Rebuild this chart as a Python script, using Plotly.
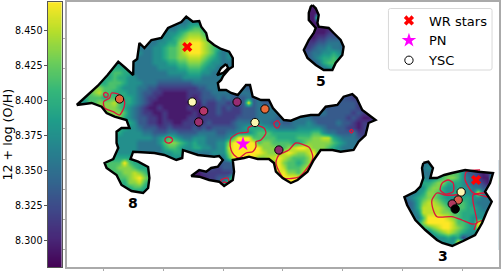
import numpy as np
import plotly.graph_objects as go

# Metallicity levels used by the digit maps below (digit -> 12+log(O/H))
LEVELS = [8.295, 8.315, 8.335, 8.355, 8.375, 8.395, 8.415, 8.435, 8.452, 8.47]

MAIN_ROWS = [
".......... .......... ..33333... ..........",
".......... .......... .3344443.. ..........",
".......... .........3 3445665433 ..........",
".......... .......334 4567776544 ..........",
".......... ......3344 5678887654 ..........",
".......... ...3333445 5789998765 3.........",
".......... ..33334456 6789998765 33........",
".......... .334334456 6789998764 343.......",
".......... ...3334456 6778887654 3433......",
".........4 44.3334445 5667776544 33343.....",
"........55 5533333444 4556665443 33343.....",
"......5566 5533333334 4445554433 5633......",
".....55565 5443333333 3344443333 463.......",
"....555666 5444333222 2222333333 3.........",
"...5776665 4443322111 1111122333 33...23...",
"..56786655 5443221100 0001112233 3323332333",
".556665666 5543211000 0001012223 2322232322 22........ ......1122 ..",
"..46677786 5543210000 0000102112 2122292322 22........ ....222122 ..",
"..56677776 5432100100 0001001112 1211222333 3322...... 2222222111 1.",
"......7777 6432110010 0000101112 1111222333 3333333333 3222221211 2.",
".......677 5432211010 0001101111 1112222333 3233333322 2222212100 1.",
"........56 5542211011 0011111211 1123333433 2322333432 2223221011 1.",
"........55 5443222112 1111212122 2223455554 4333344444 3222211012 ..",
".........5 4444332223 3222233332 2334445666 5555555566 4332223112 ..",
".........4 4444443456 5433444333 3469996666 6555566677 8854333212 ..",
".........4 4443333467 7654544334 4799999677 6666556777 776543333. ..",
".........4 4443333356 6544554434 4899999977 7667899877 7654333... ..",
".........4 4443333344 5543333344 4799999987 7789877896 65........ ..",
"........55 555....... .......... 3699999778 898766679. .......... ..",
".......666 9655...... .........2 223....... 797665679. .......... ..",
".......667 776555.... .........1 222....... .98666788. .......... ..",
".........6 778765.... ....001111 112....... .8977689.. .......... ..",
".........6 678976.... ....000112 237....... ..999998.. .......... ..",
".......... 577865.... .......112 478....... ...999.... .......... ..",
".......... .56654.... .......... 77........ .......... .......... ..",
".......... ..444..... .......... .......... .......... .......... ..",
]

G5_ROWS = [
"..00000...",
"..000000..",
"..0900....",
"..00000...",
"...00000..",
"...0011100",
"..01122211",
"..12233321",
".123343321",
".233445432",
".234556532",
".123566521",
"..12345321",
"....1211..",
]

G3_ROWS = [
"..... 33... ..... .....",
"....3 433.. ..... .....",
"....3 33566 66422 1012.",
"....4 34567 76432 1009.",
"....5 56775 55432 2109.",
"...44 67754 45443 3221.",
".3345 77654 55443 9333.",
"23456 77654 45554 4332.",
"22357 88765 56654 33321",
".2358 88876 56655 43321",
"..348 88877 66555 4432.",
"...36 99998 76554 4432.",
"....7 99999 86654 9842.",
"..... 67899 87654 85...",
"..... 35678 76544 43...",
"..... .3445 45133 3....",
"..... ...44 49933 .....",
"..... ....4 443.. .....",
]

# Galaxy outlines (image-plane coordinates)
OUTLINE_MAIN = [
(75,105),(85,96),(96,86),(106,75),(116.7,61.7),(124,68),(131.7,75),(132,61.7),(135.7,59),(138,43),
(143,48),(150,40),(160,38),(166.7,28),(176.7,24),(180,22),(185,16.7),(191.7,21.7),(198,21),(200,26.7),
(205,33),(206.7,40),(213,45),(220,49),(228,51.7),(231.7,58),(231.7,66.7),(228,69),(222,76),(220,80),
(216.7,83),(218,90),(225,90),(230,93),(236.7,95),(245,85),(249,85),(251.7,96.7),(260,100),(268,100),
(272,108),(283,120),(290,120.7),(300,116.7),(310,115),(318,115),(325,106.7),(336.7,105),(343,96.7),
(351.7,94),(356,98),(361.7,110),(375,120),(368,123),(365,135),(358,141.7),(353,150),(340,151.7),
(331.7,150),(320,150),(313,160),(306.7,171.7),(296.7,180),(290,183),(281.7,178),(275,171.7),(273,163),
(268,159),(256.7,159),(248,156.7),(243,158),(231.7,160),(233,171.7),(231.7,180),(223,186),(218,181.7),
(208,180),(198,176.7),(190,176),(198,170),(205,171.7),(210,168),(216.7,166.7),(221.7,160),(218,156),
(213,156.7),(196.7,155),(188,151.7),(181.7,150),(181,158),(175,160),(163,155),(153,153),(131.7,151.7),
(129,159),(136.7,161.7),(146.7,167),(148,178),(146.7,188),(141.7,193),(130,191),(120,185),(115,175),
(105,168),(103,163),(111.7,159),(116.7,148),(115,143),(115,131.7),(120,128),(128,128),(125,120),
(113,116.7),(105,113),(100,106.7),(90,103),
]
HOLE_MAIN = [(225,64),(220,68),(216,75),(222,73),(227,68)]
OUTLINE_G5 = [
(311.7,5),(315,8.3),(318,15),(316.7,23),(318,26.7),(328,28),(333,33),(340,40),(343,46.7),(341.7,55),
(335,63),(331.7,70),(323,70),(315,65),(306.7,58),(303,50),(308,40),(313,33),(315,28),(308,20),(308,13),(310,6.7),
]
OUTLINE_G3 = [
(423,163),(428,161.7),(432.7,168),(430,178),(436.7,178),(444,175),(451.7,173),(465,170),(478,171.7),
(493,173),(490,183),(485,191.7),(491.7,201.7),(486.7,211.7),(482,223),(475,235),(463,241),(452,246),
(442,243),(436.7,240),(425,230),(415,220),(406.7,205),(404,197),(415,191.7),(420,186.7),(423,178),(421.7,168),
]

# Red contours
CONTOURS = [
[(110,93),(116.7,94),(122.7,100),(122.7,106.7),(118,115),(111.7,111.7),(103,108),(102,101.7),(108,98),(110,93)],
[(102,94),(104,92.5),(106.5,94),(106,97),(103,97),(102,94)],
[(163.5,140),(165,137.5),(168,137),(171,139),(171,141),(168,143),(165,142.5),(163.5,140)],
[(230,138),(238,133),(247,132),(247,128),(254,125),(263,128),(265,133),(260,140),(255,141.7),(255,146.7),
 (251.7,151.7),(245,153),(238,158),(233,155),(230,150),(229,141.7),(230,138)],
[(273,123),(276.7,120.7),(279,124),(276.7,128),(274,126.7),(273,123)],
[(310,150),(308,147),(295,143),(288,150),(278,155),(275,163),(283,178),(298,177),(305,170),(312,158),(310,150)],
[(220,180),(226.7,178),(227.7,183),(223,182),(220,184),(220,180)],
[(349,131),(351,129.5),(352.5,131),(351,133),(349,131)],
[(441.7,183.3),(448,180),(453,183),(453,191.7),(445,194),(440,190),(441.7,183.3)],
[(465,193),(455,195),(445,195),(436.7,193),(431.7,200),(433,210),(436.7,216.7),(451.7,216.7),(461.7,220),
 (471.7,224),(476.7,223),(475,211.7),(473,201.7),(473,195),(485,193)],
[(488,197),(479,195),(472,192),(465,180),(466,172),(480,170)],
[(483,220),(476.7,223),(474,230)],
]

WR_X, WR_Y = [186, 476], [47, 180]
PN_X, PN_Y = [242], [144]
YSC_X = [118, 191, 202.5, 197.5, 236, 264, 254, 278, 461, 458, 452, 455]
YSC_Y = [99, 102, 111, 122, 102, 109, 122.5, 150, 192, 200, 204, 209]
YSC_COLORS = ["#e0663a", "#fcf9b5", "#b5376a", "#9b2f6e", "#972c72", "#ea6b38",
              "#fbf5b0", "#8d2a6c", "#fbf5b0", "#d8604c", "#b03a5f", "#000000"]

GAL_LABELS = ["8", "5", "3"]
GAL_LABEL_X = [132, 320, 443]
GAL_LABEL_Y = [203, 81, 256]

CB_TICKS = [8.30, 8.325, 8.35, 8.375, 8.40, 8.425, 8.45]
CB_MIN, CB_MAX = 8.281, 8.470
X_TICKS = [102, 162, 222, 282, 342, 402, 462]
Y_TICKS = [38, 68, 98, 128, 159, 189, 219, 249]

W, H = 501, 271
L, R, T, B = 65.7, 498.5, 2.3, 267.0


def grid(rows):
    clean = [r.replace(" ", "") for r in rows]
    n = max(len(r) for r in clean)
    return [[LEVELS[int(c)] if c.isdigit() else None for c in r.ljust(n, ".")] for r in clean]


def xs(points, closed=True):
    pts = list(points) + ([points[0]] if closed else [])
    return [p[0] for p in pts]


def ys(points, closed=True):
    pts = list(points) + ([points[0]] if closed else [])
    return [p[1] for p in pts]


fig = go.Figure()
for rows, x0, y0 in [(MAIN_ROWS, 72.5, 17.5), (G5_ROWS, 302.5, 7.5), (G3_ROWS, 402.5, 162.5)]:
    fig.add_trace(go.Heatmap(z=grid(rows), x0=x0, dx=5, y0=y0, dy=5, zmin=CB_MIN, zmax=CB_MAX,
                             colorscale="Viridis", showscale=False, zsmooth="best",
                             connectgaps=True, hoverinfo="skip"))

# white mask round the galaxies (hole-punched rectangle)
mx = [L, L, R, R, L]
my = [T, B, B, T, T]
for poly in (OUTLINE_MAIN, OUTLINE_G5, OUTLINE_G3):
    mx += [None] + xs(poly)
    my += [None] + ys(poly)
hole = HOLE_MAIN[::-1]
mx += [None] + xs(hole)
my += [None] + ys(hole)
fig.add_trace(go.Scatter(x=mx, y=my, mode="lines", fill="toself", fillcolor="white",
                         line=dict(width=0, color="white"), showlegend=False, hoverinfo="skip"))

# red contours
cx, cy = [], []
for c in CONTOURS:
    cx += xs(c, False) + [None]
    cy += ys(c, False) + [None]
fig.add_trace(go.Scatter(x=cx, y=cy, mode="lines",
                         line=dict(color="#dc143c", width=1.3, shape="spline", smoothing=0.7),
                         showlegend=False, hoverinfo="skip"))

# black outlines
ox, oy = [], []
for poly in (OUTLINE_MAIN, OUTLINE_G5, OUTLINE_G3, HOLE_MAIN):
    ox += xs(poly) + [None]
    oy += ys(poly) + [None]
fig.add_trace(go.Scatter(x=ox, y=oy, mode="lines", line=dict(color="black", width=2.4),
                         showlegend=False, hoverinfo="skip"))

fig.add_trace(go.Scatter(x=YSC_X, y=YSC_Y, mode="markers", showlegend=False,
                         marker=dict(size=8.3, color=YSC_COLORS, line=dict(color="black", width=1))))
fig.add_trace(go.Scatter(x=WR_X, y=WR_Y, mode="markers", name="WR stars",
                         marker=dict(symbol="x", size=9, color="red", line=dict(width=0))))
fig.add_trace(go.Scatter(x=PN_X, y=PN_Y, mode="markers", name="PN",
                         marker=dict(symbol="star", size=11, color="magenta", line=dict(width=0))))
fig.add_trace(go.Scatter(x=[None], y=[None], mode="markers", name="YSC",
                         marker=dict(size=8.3, color="white", line=dict(color="black", width=1))))

# colour bar ramp with its own axis
ramp = np.linspace(CB_MIN, CB_MAX, 256)
fig.add_trace(go.Heatmap(z=[[v] for v in ramp], x=[0], y=ramp, zmin=CB_MIN, zmax=CB_MAX,
                         colorscale="Viridis", showscale=False, xaxis="x2", yaxis="y2",
                         hoverinfo="skip"))

annotations = [dict(x=x, y=y, text=f"<b>{t}</b>", showarrow=False, xref="x", yref="y",
                    font=dict(size=14, color="black", family="DejaVu Sans"))
               for t, x, y in zip(GAL_LABELS, GAL_LABEL_X, GAL_LABEL_Y)]

GREY = "#aaaaaa"
fig.update_layout(
    width=W, height=H, margin=dict(l=0, r=0, t=0, b=0), autosize=False,
    paper_bgcolor="white", plot_bgcolor="white",
    font=dict(family="DejaVu Sans", color="black"),
    xaxis=dict(domain=[L / W, R / W], range=[L, R], tickvals=X_TICKS, showticklabels=False,
               ticks="outside", ticklen=2.5, tickcolor=GREY, showgrid=False, zeroline=False,
               showline=True, mirror=True, linecolor=GREY, linewidth=1.5),
    yaxis=dict(domain=[1 - B / H, 1 - T / H], range=[B, T], tickvals=Y_TICKS, showticklabels=False,
               ticks="outside", ticklen=2.5, tickcolor=GREY, showgrid=False, zeroline=False,
               showline=True, mirror=True, linecolor=GREY, linewidth=1.5),
    xaxis2=dict(domain=[46 / W, 60 / W], anchor="y2", showticklabels=False, ticks="",
                showgrid=False, zeroline=False, showline=True, mirror=True,
                linecolor="#555555", linewidth=0.8),
    yaxis2=dict(domain=[1 - B / H, 1 - T / H], anchor="x2", range=[CB_MIN, CB_MAX],
                tickvals=CB_TICKS, tickformat=".3f", ticks="outside", ticklen=2.5,
                tickcolor="#555555", tickfont=dict(size=9.6), showgrid=False, zeroline=False,
                showline=True, mirror=True, linecolor="#555555", linewidth=0.8,
                title=dict(text="12 + log (O/H)", font=dict(size=12.7), standoff=6)),
    legend=dict(x=388.5 / W, y=1 - 5.5 / H, xanchor="left", yanchor="top", bgcolor="rgba(0,0,0,0)",
                borderwidth=0, font=dict(size=13, color="black"), tracegroupgap=0),
    annotations=annotations,
    shapes=[dict(type="path", xref="paper", yref="paper", layer="above", fillcolor="rgba(255,255,255,0.8)",
                 line=dict(color="#d8d8d8", width=1),
                 path=("M {a},{t} L {b},{t} Q {c},{t} {c},{u} L {c},{v} Q {c},{w} {b},{w} "
                       "L {a},{w} Q {d},{w} {d},{v} L {d},{u} Q {d},{t} {a},{t} Z").format(
                     a=390 / W, b=490 / W, c=492 / W, d=388 / W,
                     t=1 - 8.5 / H, u=1 - 10.5 / H, v=1 - 68 / H, w=1 - 70 / H))],
)

fig.write_html("out.html", config=dict(displayModeBar=False),
               post_script="document.body.style.margin='0';")
